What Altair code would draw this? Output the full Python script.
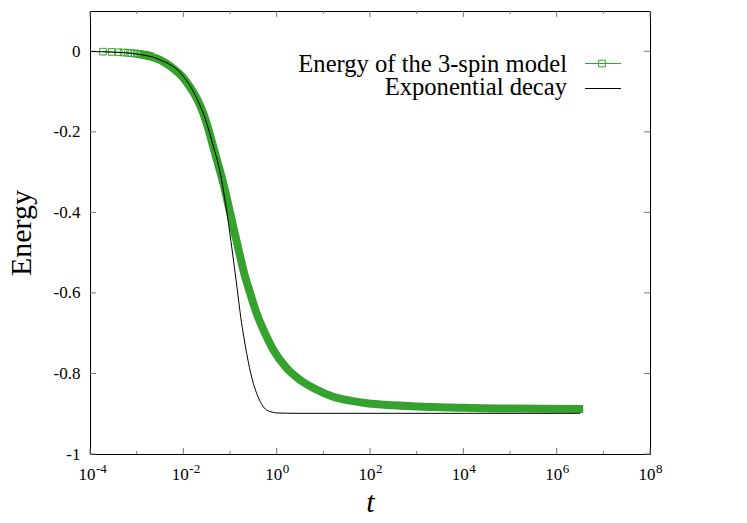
import altair as alt
import pandas as pd

# ---------------- data ----------------
x_major = [1e-4, 1e-2, 1e0, 1e2, 1e4, 1e6, 1e8]
x_major_exp = ["-4", "-2", "0", "2", "4", "6", "8"]
x_minor = [1e-3, 1e-1, 1e1, 1e3, 1e5, 1e7]
y_ticks = [0, -0.2, -0.4, -0.6, -0.8, -1]
y_labels = ["0", "-0.2", "-0.4", "-0.6", "-0.8", "-1"]

series_names = ["Energy of the 3-spin model", "Exponential decay"]

# sparse early points of the 3-spin energy (drawn as open squares)
green_sq_t = [1.9e-4, 2.9e-4, 4.1e-4, 5.25e-4, 6.5e-4, 7.75e-4, 9.0e-4, 1.02e-3,
              1.15e-3, 1.27e-3, 1.4e-3, 1.52e-3, 1.65e-3, 1.77e-3, 1.9e-3]
green_sq_e = [-0.001, -0.0017, -0.0025, -0.003, -0.004, -0.0047, -0.0054, -0.006,
              -0.007, -0.0077, -0.0085, -0.009, -0.010, -0.011, -0.0115]

# dense part of the 3-spin energy (drawn as a thick band)
green_t = [1.17e-3, 1.78e-3, 2.69e-3, 3.98e-3, 6.1e-3, 1.0e-2, 1.39e-2, 2.0e-2,
           2.69e-2, 3.55e-2, 4.37e-2, 5.62e-2, 7.2e-2, 0.0915, 0.1175, 0.151,
           0.193, 0.269, 0.372, 0.562, 0.851, 1.585, 3.16, 7.08, 16.2, 39.8, 85.0,
           316.0, 1.0e3, 1.0e4, 6.2e4, 5.0e5, 3.7e6]
green_e = [-0.007, -0.012, -0.018, -0.028, -0.043, -0.066, -0.089, -0.12,
           -0.155, -0.198, -0.237, -0.282, -0.328, -0.38, -0.436, -0.49,
           -0.543, -0.60, -0.651, -0.70, -0.742, -0.785, -0.816, -0.84, -0.858,
           -0.868, -0.874, -0.879, -0.882, -0.885, -0.887, -0.8875, -0.888]

# exponential decay
black_t = [1e-4, 3e-4, 1e-3, 3e-3, 1e-2, 2e-2, 3e-2, 4.37e-2, 6e-2, 7.2e-2, 9.1e-2,
           0.11, 0.139, 0.17, 0.2275, 0.3, 0.3715, 0.47, 0.61, 0.8, 1.0, 3.0, 3.2e6]
black_e = [-0.0007, -0.002, -0.007, -0.02, -0.062, -0.12, -0.17, -0.235, -0.295,
           -0.345, -0.42, -0.49, -0.58, -0.66, -0.75, -0.815, -0.849, -0.875,
           -0.891, -0.896, -0.898, -0.899, -0.899]

# ---------------- styling ----------------
W, H = 560, 443
GREEN = "#35a22d"
TICK = "#777777"
FONT = "Liberation Serif"

xs = alt.Scale(type="log", domain=[1e-4, 1e8], nice=False)
ys = alt.Scale(domain=[-1, 0.1], nice=False, zero=False)

xaxis = alt.Axis(title="t", labels=False, ticks=False, domain=False, grid=False,
                 titleFont=FONT, titleFontSize=30, titleFontStyle="italic",
                 titleFontWeight="normal", titleColor="black",
                 titleX=W / 2, titleY=57, titleBaseline="alphabetic",
                 titleAlign="center")

yexpr = " : ".join(
    f"abs(datum.value - ({v})) < 1e-6 ? '{s}'" for v, s in zip(y_ticks, y_labels)
) + " : ''"
yaxis = alt.Axis(title="Energy", values=y_ticks, labelExpr=yexpr, ticks=False,
                 domain=False, grid=False, labelFont=FONT, labelFontSize=17,
                 labelColor="black", labelPadding=10, labelFlush=False,
                 labelOverlap=False,
                 titleFont=FONT, titleFontSize=30, titleFontWeight="normal",
                 titleColor="black", titleX=-60, titleY=H / 2,
                 titleBaseline="alphabetic", titleAlign="center", titleAngle=-90)

X = alt.X("t:Q", scale=xs, axis=xaxis)
Y = alt.Y("E:Q", scale=ys, axis=yaxis)

df_sq = pd.DataFrame({"t": green_sq_t, "E": green_sq_e})
df_g = pd.DataFrame({"t": green_t, "E": green_e})
df_thin = pd.concat([df_sq, df_g]).sort_values("t")
df_b = pd.DataFrame({"t": black_t, "E": black_e})
df_xmaj = pd.DataFrame({"t": x_major, "base": ["10"] * len(x_major), "exp": x_major_exp})
df_xmin = pd.DataFrame({"t": x_minor})
df_y = pd.DataFrame({"E": y_ticks})

layers = []
# ticks (inside, mirrored)
layers.append(alt.Chart(df_xmaj).mark_rule(color=TICK, strokeWidth=1).encode(x=X, y=alt.value(H), y2=alt.value(H - 6)))
layers.append(alt.Chart(df_xmaj).mark_rule(color=TICK, strokeWidth=1).encode(x=X, y=alt.value(0), y2=alt.value(6)))
layers.append(alt.Chart(df_xmin).mark_rule(color=TICK, strokeWidth=1).encode(x=X, y=alt.value(H), y2=alt.value(H - 3)))
layers.append(alt.Chart(df_xmin).mark_rule(color=TICK, strokeWidth=1).encode(x=X, y=alt.value(0), y2=alt.value(3)))
layers.append(alt.Chart(df_y).mark_rule(color=TICK, strokeWidth=1).encode(y=Y, x=alt.value(0), x2=alt.value(6)))
layers.append(alt.Chart(df_y).mark_rule(color=TICK, strokeWidth=1).encode(y=Y, x=alt.value(W), x2=alt.value(W - 6)))

# x tick labels "10" with superscript exponent
layers.append(alt.Chart(df_xmaj).mark_text(align="right", baseline="alphabetic", dx=5.5,
                                           fontSize=17, font=FONT, color="black")
              .encode(x=X, y=alt.value(H + 26), text="base:N"))
layers.append(alt.Chart(df_xmaj).mark_text(align="left", baseline="alphabetic", dx=6,
                                           fontSize=13, font=FONT, color="black")
              .encode(x=X, y=alt.value(H + 19), text="exp:N"))

# data
layers.append(alt.Chart(df_thin).mark_line(color=GREEN, strokeWidth=1,
                                           interpolate="monotone").encode(x=X, y=Y))
layers.append(alt.Chart(df_sq).mark_point(shape="square", filled=False, size=44,
                                          color=GREEN, strokeWidth=1, opacity=1)
              .encode(x=X, y=Y))
layers.append(alt.Chart(df_g).mark_line(color=GREEN, strokeWidth=8, strokeCap="butt",
                                        strokeJoin="round", interpolate="monotone")
              .encode(x=X, y=Y))
layers.append(alt.Chart(df_b).mark_line(color="black", strokeWidth=1,
                                        interpolate="monotone").encode(x=X, y=Y))

# key (text on the left, sample on the right, as in the reference)
df_n1 = pd.DataFrame({"name": [series_names[0]]})
df_n2 = pd.DataFrame({"name": [series_names[1]]})
layers.append(alt.Chart(df_n1).mark_text(align="right", baseline="alphabetic", fontSize=24.6,
                                         font=FONT, color="black")
              .encode(x=alt.value(477), y=alt.value(61), text="name:N"))
layers.append(alt.Chart(df_n2).mark_text(align="right", baseline="alphabetic", fontSize=24.6,
                                         font=FONT, color="black")
              .encode(x=alt.value(477), y=alt.value(84), text="name:N"))
layers.append(alt.Chart(df_n1).mark_rule(color=GREEN, strokeWidth=1)
              .encode(x=alt.value(495), x2=alt.value(531), y=alt.value(52.5)))
layers.append(alt.Chart(df_n1).mark_point(shape="square", filled=False, size=44, color=GREEN,
                                          strokeWidth=1, opacity=1)
              .encode(x=alt.value(512), y=alt.value(52.5)))
layers.append(alt.Chart(df_n2).mark_rule(color="black", strokeWidth=1)
              .encode(x=alt.value(495), x2=alt.value(531), y=alt.value(77.5)))

chart = (
    alt.layer(*layers)
    .properties(width=W, height=H,
                autosize=alt.AutoSizeParams(type="none"),
                padding={"left": 82, "top": 3, "right": 40, "bottom": 65})
    .configure_view(stroke="black", strokeWidth=1)
)

chart.save("out.html", embed_options={"renderer": "svg", "actions": False})
